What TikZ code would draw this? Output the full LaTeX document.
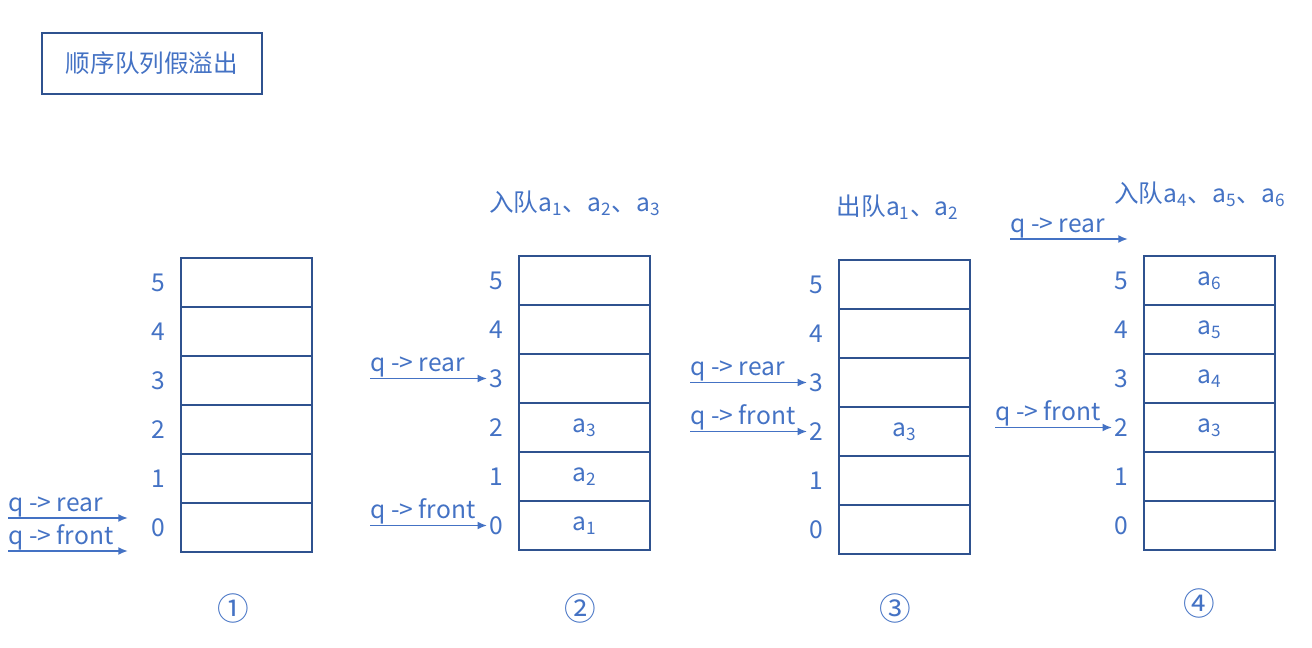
\documentclass[tikz,border=0pt]{standalone}
\usepackage{fontspec}
\setmainfont{Noto Sans CJK SC}
\usetikzlibrary{positioning,arrows.meta}
\definecolor{boxblue}{HTML}{2F528F}
\definecolor{txtblue}{HTML}{4472C4}
\tikzset{
  cell/.style={draw=boxblue, line width=1.1pt, minimum width=2.62cm, minimum height=0.98cm, inner sep=0pt, text=txtblue},
  idx/.style={text=txtblue, inner sep=1pt, left=0.26cm of #1},
  ptr/.style={-{Latex[length=5.5pt,width=4.5pt]}, draw=txtblue, line width=1pt},
  lbl/.style={text=txtblue, inner sep=0pt, above right=0.5pt and 0pt of #1},
  head/.style={text=txtblue, inner sep=0pt},
  stepno/.style={text=txtblue, inner sep=0pt, font=\fontsize{18}{20}\selectfont},
}
\newcommand{\asub}[1]{a\textsubscript{#1}}
\begin{document}
\begin{tikzpicture}[x=0.02cm, y=-0.02cm, font=\fontsize{14}{17}\selectfont]
  \useasboundingbox (0,0) rectangle (1312,648);
  % title
  \node[draw=boxblue, line width=1.1pt, minimum width=4.4cm, minimum height=1.22cm, text=txtblue] (title) at (152,63.5) {顺序队列假溢出};
  % queue 1: empty
  \foreach \i in {0,...,5}
  \node[cell] (q1-\i) at (246.5, {527.5-49*\i}) {};
  \foreach \i in {0,...,5}
  \node[idx=q1-\i] (n1-\i) {\i};
  % queue 2
  \foreach \i/\t in {0/\asub{1},1/\asub{2},2/\asub{3},3/{},4/{},5/{}}
  \node[cell] (q2-\i) at (584.5, {525.5-49*\i}) {\t};
  \foreach \i in {0,...,5}
  \node[idx=q2-\i] (n2-\i) {\i};
  % queue 3
  \foreach \i/\t in {0/{},1/{},2/\asub{3},3/{},4/{},5/{}}
  \node[cell] (q3-\i) at (904.5, {529.5-49*\i}) {\t};
  \foreach \i in {0,...,5}
  \node[idx=q3-\i] (n3-\i) {\i};
  % queue 4
  \foreach \i/\t in {0/{},1/{},2/\asub{3},3/\asub{4},4/\asub{5},5/\asub{6}}
  \node[cell] (q4-\i) at (1209.5, {525.5-49*\i}) {\t};
  \foreach \i in {0,...,5}
  \node[idx=q4-\i] (n4-\i) {\i};
  % headers
  \node[head] (h2) at (575,203) {入队\asub{1}、\asub{2}、\asub{3}};
  \node[head] (h3) at (898,207) {出队\asub{1}、\asub{2}};
  \node[head] (h4) at (1200,194) {入队\asub{4}、\asub{5}、\asub{6}};
  % pointers
  \coordinate (s1r) at (8,518);
  \coordinate (e1r) at (128,518);
  \coordinate (s1f) at (8,551);
  \coordinate (e1f) at (128,551);
  \draw[ptr] (s1r) -- (e1r);
  \draw[ptr] (s1f) -- (e1f);
  \node[lbl=s1r] (l1r) {q -> rear};
  \node[lbl=s1f] (l1f) {q -> front};
  \coordinate (s2r) at (370,378.5);
  \coordinate (s2f) at (370,525.5);
  \draw[ptr] (s2r) -- (s2r -| n2-3.west);
  \draw[ptr] (s2f) -- (s2f -| n2-0.west);
  \node[lbl=s2r] (l2r) {q -> rear};
  \node[lbl=s2f] (l2f) {q -> front};
  \coordinate (s3r) at (690,382.5);
  \coordinate (s3f) at (690,431.5);
  \draw[ptr] (s3r) -- (s3r -| n3-3.west);
  \draw[ptr] (s3f) -- (s3f -| n3-2.west);
  \node[lbl=s3r] (l3r) {q -> rear};
  \node[lbl=s3f] (l3f) {q -> front};
  \coordinate (s4r) at (1010,239);
  \coordinate (e4r) at (1128,239);
  \coordinate (s4f) at (995,427.5);
  \draw[ptr] (s4r) -- (e4r);
  \draw[ptr] (s4f) -- (s4f -| n4-2.west);
  \node[lbl=s4r] (l4r) {q -> rear};
  \node[lbl=s4f] (l4f) {q -> front};
  % step numbers
  \node[stepno] (c1) at (233,608) {①};
  \node[stepno] (c2) at (580,608) {②};
  \node[stepno] (c3) at (895,608) {③};
  \node[stepno] (c4) at (1199,603) {④};
\end{tikzpicture}
\end{document}
